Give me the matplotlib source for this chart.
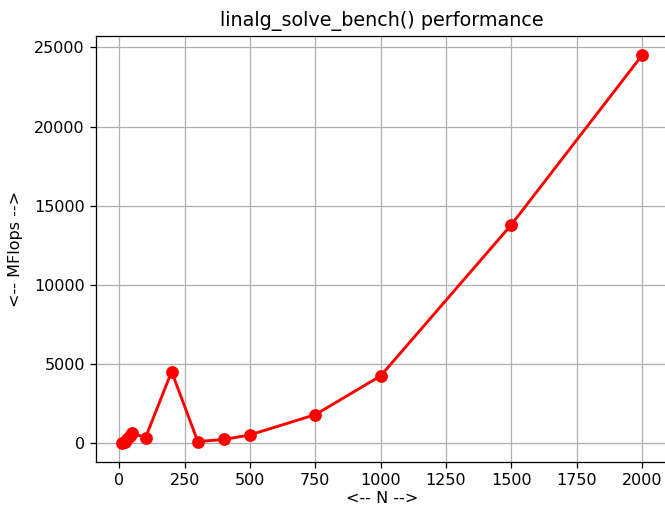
import matplotlib
matplotlib.use("Agg")
import matplotlib.pyplot as plt

# benchmark sizes and measured throughput
sizes = [10, 20, 30, 40, 50, 100, 200, 300, 400, 500, 750, 1000, 1500, 2000]
mflops = [30, 60, 250, 450, 620, 350, 4520, 100, 230, 520, 1800, 4250, 13800, 24500]

W, H, DPI = 665, 508, 115
fig = plt.figure(figsize=(W / DPI, H / DPI), dpi=DPI)
ax = fig.add_axes([96 / W, 46 / H, 572 / W, 426 / H])

ax.plot(sizes, mflops, '-o', c='red', linewidth=1.8, markersize=7)
ax.set_title("linalg_solve_bench() performance")
ax.set_xlabel("<-- N -->", labelpad=2)
ax.set_ylabel("<-- MFlops -->", labelpad=7)
ax.grid(True)

fig.savefig("out.png", dpi=DPI)
